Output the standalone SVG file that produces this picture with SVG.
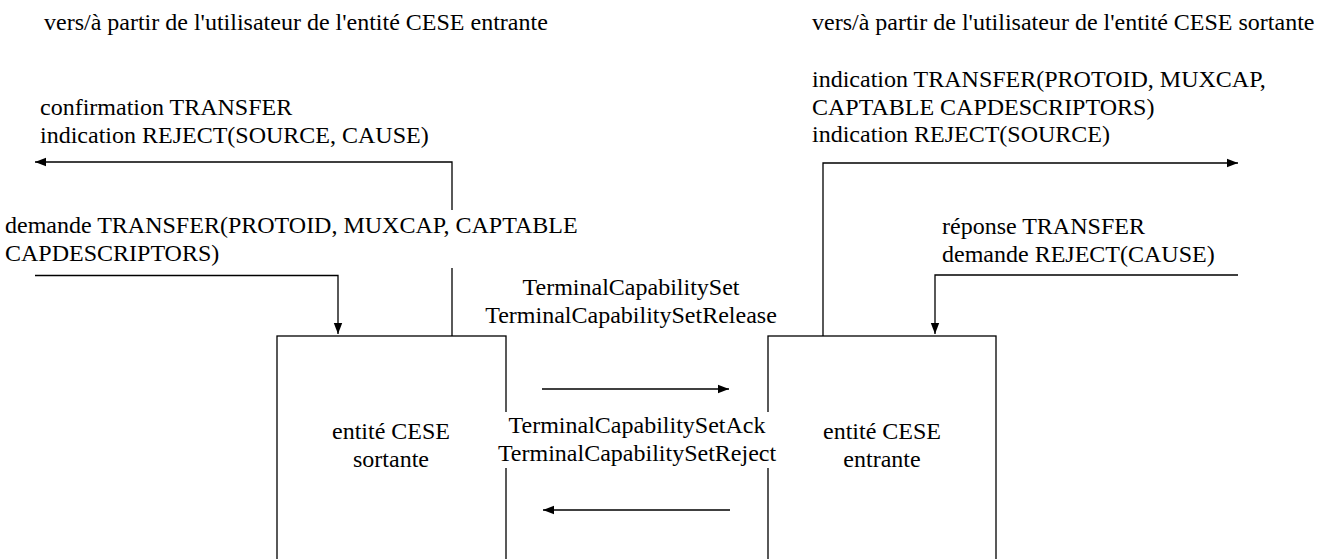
<svg xmlns="http://www.w3.org/2000/svg" width="1329" height="559" viewBox="0 0 1329 559" font-family="'Liberation Serif', 'DejaVu Serif', serif">
<style>
  text { font-family: "Liberation Serif", Tinos, "DejaVu Serif", serif; font-size: 24px; fill: #000; }
  .mid { text-anchor: middle; }
  .ln { fill: none; stroke: #000; stroke-width: 1.3; }
  .box { fill: #fff; stroke: #000; stroke-width: 1.3; }
</style>
<defs>
  <marker id="ah" markerUnits="userSpaceOnUse" markerWidth="12" markerHeight="10" refX="11" refY="5" orient="auto">
    <path d="M0,0.8 L11,5 L0,9.2 Z" fill="#000"/>
  </marker>
</defs>
<rect width="1329" height="559" fill="#fff"/>

<g id="header-left"><text x="44" y="30">vers/à partir de l'utilisateur de l'entité CESE entrante</text></g>
<g id="header-right"><text x="812" y="30">vers/à partir de l'utilisateur de l'entité CESE sortante</text></g>

<g id="node-sortante">
  <rect class="box" x="277" y="336" width="229" height="240"/>
  <text class="mid" x="391" y="439">entité CESE</text>
  <text class="mid" x="391" y="466.5">sortante</text>
</g>
<g id="node-entrante">
  <rect class="box" x="768" y="336" width="228" height="240"/>
  <text class="mid" x="882" y="439">entité CESE</text>
  <text class="mid" x="882" y="466.5">entrante</text>
</g>

<g id="connectors">
  <path class="ln" d="M452,210 V162 H35" marker-end="url(#ah)"/>
  <path class="ln" d="M452,268 V336"/>
  <path class="ln" d="M35,275.5 H338 V334" marker-end="url(#ah)"/>
  <path class="ln" d="M823,336 V163 H1238" marker-end="url(#ah)"/>
  <path class="ln" d="M1238,275 H935 V334" marker-end="url(#ah)"/>
  <path class="ln" d="M542,389 H729" marker-end="url(#ah)"/>
  <path class="ln" d="M730,510 H543" marker-end="url(#ah)"/>
</g>

<g id="label-left-up">
  <text x="40" y="115">confirmation TRANSFER</text>
  <text x="40" y="142.5">indication REJECT(SOURCE, CAUSE)</text>
</g>
<g id="label-left-down">
  <text x="5" y="233">demande TRANSFER(PROTOID, MUXCAP, CAPTABLE</text>
  <text x="5" y="261">CAPDESCRIPTORS)</text>
</g>
<g id="label-right-up">
  <text x="812" y="87">indication TRANSFER(PROTOID, MUXCAP,</text>
  <text x="812" y="114.5">CAPTABLE CAPDESCRIPTORS)</text>
  <text x="812" y="142">indication REJECT(SOURCE)</text>
</g>
<g id="label-right-down">
  <text x="942" y="234">réponse TRANSFER</text>
  <text x="942" y="261.5">demande REJECT(CAUSE)</text>
</g>
<g id="label-forward">
  <text class="mid" x="631" y="295">TerminalCapabilitySet</text>
  <text class="mid" x="631" y="322.5">TerminalCapabilitySetRelease</text>
</g>
<g id="label-backward">
  <rect x="497" y="412" width="280" height="56" fill="#fff"/>
  <text class="mid" x="637" y="433">TerminalCapabilitySetAck</text>
  <text class="mid" x="637" y="460.5">TerminalCapabilitySetReject</text>
</g>
</svg>
